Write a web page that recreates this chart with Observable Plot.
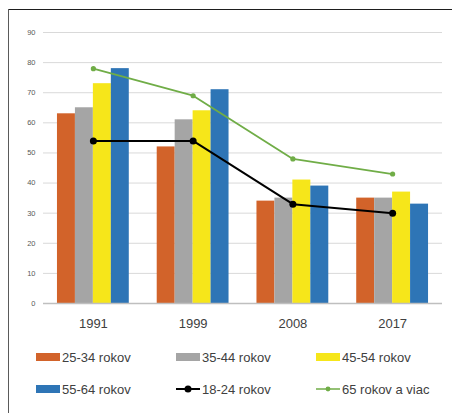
<!DOCTYPE html>
<html>
<head>
<meta charset="utf-8">
<script src="https://cdn.jsdelivr.net/npm/d3@7"></script>
<script src="https://cdn.jsdelivr.net/npm/@observablehq/plot@0.6"></script>
<style>
  html, body { margin: 0; padding: 0; background: #fff; }
  body { width: 452px; height: 413px; position: relative; overflow: hidden; font-family: "Liberation Sans", Arial, sans-serif; }
  #chart { position: absolute; left: 0; top: 0; }
  .frame-top { position: absolute; left: 8px; top: 9px; width: 444px; height: 0; border-top: 1.6px solid #1e1e1e; z-index: 2; }
  .frame-left { position: absolute; left: 7.5px; top: 9px; width: 0; height: 404px; border-left: 1.6px solid #5a5a5a; z-index: 2; }
  #legend { position: absolute; left: 0; top: 0; width: 452px; height: 413px; z-index: 1; }
  .item { position: absolute; display: flex; align-items: center; font-size: 13px; color: #404040; white-space: nowrap; }
  .item svg { display: block; margin-right: 2px; }
</style>
</head>
<body>
<div id="chart"></div>
<div id="legend"></div>
<div class="frame-top"></div>
<div class="frame-left"></div>
<script>
// ---- data ----
const years = ["1991", "1999", "2008", "2017"];
const barSeries = ["25-34 rokov", "35-44 rokov", "45-54 rokov", "55-64 rokov"];
const barColors = ["#d2632a", "#a5a5a5", "#f6e61a", "#2e75b6"];
const v2534 = [63, 52, 34, 35];
const v3544 = [65, 61, 35, 35];
const v4554 = [73, 64, 41, 37];
const v5564 = [78, 71, 39, 33];
const lineSeries = ["18-24 rokov", "65 rokov a viac"];
const lineColors = ["#000000", "#70ad47"];
const v1824 = [54, 54, 33, 30];
const v65plus = [78, 69, 48, 43];
const yTicks = [0, 10, 20, 30, 40, 50, 60, 70, 80, 90];

// ---- build tables ----
const barValues = [v2534, v3544, v4554, v5564];
const groupWidth = 0.72;
const barW = groupWidth / barSeries.length;
const bars = [];
barSeries.forEach((s, k) => years.forEach((y, i) => bars.push({ i, k, series: s, value: barValues[k][i] })));
const line1824 = years.map((y, i) => ({ i, value: v1824[i] }));
const line65 = years.map((y, i) => ({ i, value: v65plus[i] }));

const H = 335;
const plot = Plot.plot({
  width: 452,
  height: H,
  marginLeft: 43,
  marginRight: 10,
  marginTop: 32,
  marginBottom: H - 303,
  style: { background: "transparent", fontFamily: "Liberation Sans, Arial, sans-serif" },
  x: { type: "linear", domain: [-0.5, years.length - 0.5], axis: null },
  y: { domain: [0, 90], axis: null },
  color: { domain: barSeries, range: barColors },
  marks: [
    Plot.ruleY(yTicks.filter(t => t > 0), { stroke: "#d9d9d9", strokeWidth: 1 }),
    Plot.rectY(bars, {
      x1: d => d.i - groupWidth / 2 + d.k * barW,
      x2: d => d.i - groupWidth / 2 + (d.k + 1) * barW,
      y: "value",
      fill: "series",
      inset: 0
    }),
    Plot.ruleY([0], { stroke: "#bfbfbf", strokeWidth: 1.5 }),
    Plot.axisY(yTicks, { tickSize: 0, tickPadding: 8, fontSize: 7.5, fill: "#595959", label: null }),
    Plot.axisX(years.map((y, i) => i), { tickSize: 0, tickPadding: 15, fontSize: 13, fill: "#404040", tickFormat: i => years[i], label: null }),
    Plot.line(line65, { x: "i", y: "value", stroke: lineColors[1], strokeWidth: 1.8 }),
    Plot.dot(line65, { x: "i", y: "value", fill: lineColors[1], r: 2.6 }),
    Plot.line(line1824, { x: "i", y: "value", stroke: lineColors[0], strokeWidth: 2 }),
    Plot.dot(line1824, { x: "i", y: "value", fill: lineColors[0], r: 3.5 })
  ]
});
document.getElementById("chart").appendChild(plot);

// ---- legend ----
const legend = document.getElementById("legend");
const cols = [36, 176, 316];
const rows = [357, 389];
const entries = [
  ...barSeries.map((s, k) => ({ name: s, type: "bar", color: barColors[k] })),
  ...lineSeries.map((s, k) => ({ name: s, type: "line", color: lineColors[k], r: k === 0 ? 3.5 : 2.4, w: k === 0 ? 2 : 1.5 }))
];
entries.forEach((e, idx) => {
  const div = document.createElement("div");
  div.className = "item";
  div.style.left = cols[idx % 3] + "px";
  div.style.top = (rows[Math.floor(idx / 3)] - 9) + "px";
  div.style.height = "18px";
  const ns = "http://www.w3.org/2000/svg";
  const sw = document.createElementNS(ns, "svg");
  sw.setAttribute("width", 24);
  sw.setAttribute("height", 10);
  if (e.type === "bar") {
    const r = document.createElementNS(ns, "rect");
    r.setAttribute("x", 0); r.setAttribute("y", 1); r.setAttribute("width", 24); r.setAttribute("height", 8);
    r.setAttribute("fill", e.color);
    sw.appendChild(r);
  } else {
    const l = document.createElementNS(ns, "line");
    l.setAttribute("x1", 0); l.setAttribute("x2", 24); l.setAttribute("y1", 5); l.setAttribute("y2", 5);
    l.setAttribute("stroke", e.color); l.setAttribute("stroke-width", e.w);
    sw.appendChild(l);
    const c = document.createElementNS(ns, "circle");
    c.setAttribute("cx", 12); c.setAttribute("cy", 5); c.setAttribute("r", e.r);
    c.setAttribute("fill", e.color);
    sw.appendChild(c);
  }
  div.appendChild(sw);
  const t = document.createElement("span");
  t.textContent = e.name;
  div.appendChild(t);
  legend.appendChild(div);
});
</script>
</body>
</html>
